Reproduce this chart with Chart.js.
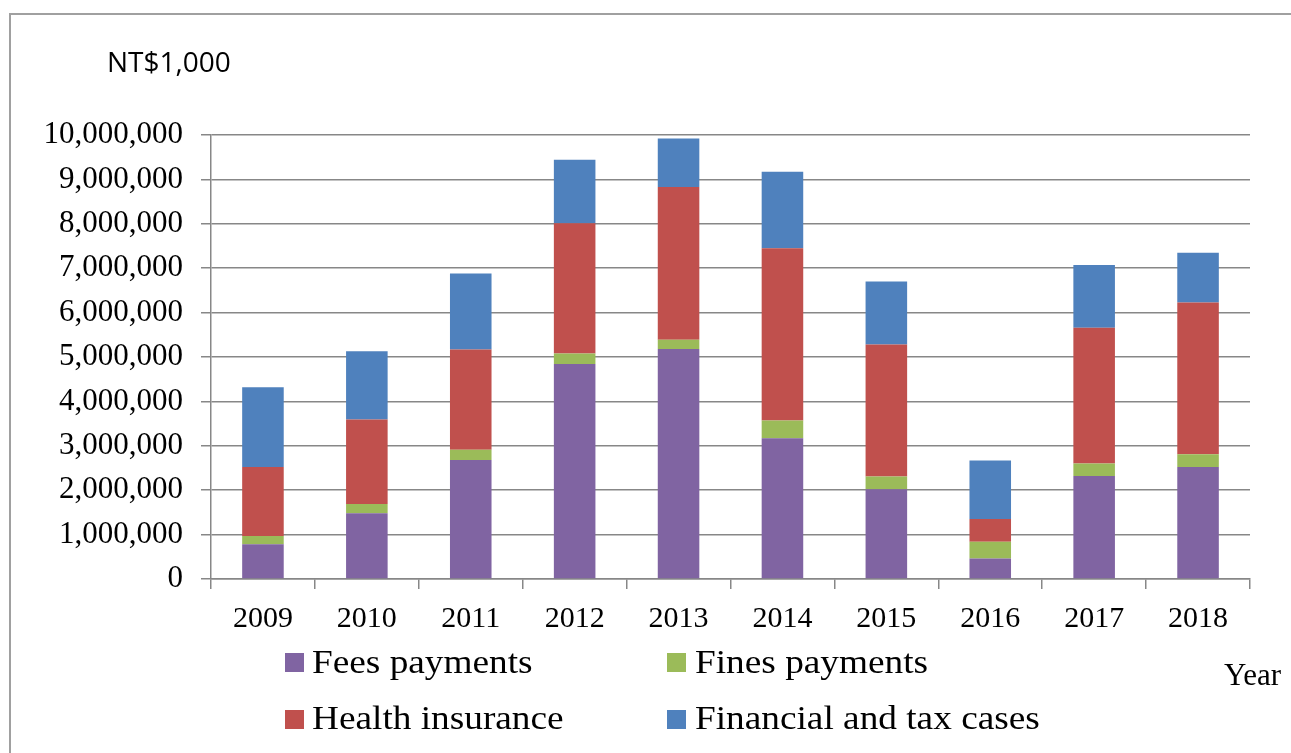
<!DOCTYPE html>
<html>
<head>
<meta charset="utf-8">
<script src="https://cdn.jsdelivr.net/npm/chart.js@4.4.0/dist/chart.umd.min.js"></script>
<style>
  html, body { margin: 0; padding: 0; background: #fff; }
  body { width: 1291px; height: 753px; position: relative; overflow: hidden;
         font-family: "Liberation Serif", "Times New Roman", serif; color: #000; }
  #frame { position: absolute; left: 9px; top: 13px; width: 1300px; height: 780px;
           border: 2px solid #a0a0a0; box-sizing: border-box; }
  #myChart { position: absolute; left: 0; top: 0; }
  #unit { position: absolute; left: 107px; top: 47px; font-family: "Open Sans", sans-serif;
          font-size: 28px; line-height: 28px; }
  #yearLbl { position: absolute; left: 1224px; top: 659px; font-size: 31px; line-height: 31px; }
  .legend-item { position: absolute; font-size: 33px; line-height: 33px; white-space: nowrap; }
  .legend-item .tx { display: inline-block; transform: scaleX(1.13); transform-origin: left center; }
  .swatch { position: absolute; width: 19px; height: 19px; }
</style>
</head>
<body>
<div id="frame"></div>
<canvas id="myChart" width="1291" height="753"></canvas>
<div id="unit">NT$1,000</div>
<div id="yearLbl">Year</div>
<div id="legend"></div>

<script>
// values in NT$1,000
var years = ['2009', '2010', '2011', '2012', '2013', '2014', '2015', '2016', '2017', '2018'];
var feesPayments = [780000, 1480000, 2680000, 4840000, 5180000, 3170000, 2020000, 460000, 2320000, 2520000];
var finesPayments = [190000, 210000, 230000, 240000, 210000, 400000, 290000, 380000, 280000, 290000];
var healthInsurance = [1550000, 1900000, 2260000, 2930000, 3440000, 3880000, 2970000, 510000, 3060000, 3420000];
var financialTax = [1800000, 1540000, 1710000, 1430000, 1090000, 1720000, 1420000, 1320000, 1410000, 1120000];
var yTicks = [0, 1000000, 2000000, 3000000, 4000000, 5000000, 6000000, 7000000, 8000000, 9000000, 10000000];

var seriesNames = ['Fees payments', 'Fines payments', 'Health insurance', 'Financial and tax cases'];
var seriesColors = ['#8064A2', '#9BBB59', '#C0504D', '#4F81BD'];
var seriesData = [feesPayments, finesPayments, healthInsurance, financialTax];

var gridColor = '#878787';
var serif = '"Liberation Serif", "Times New Roman", serif';

var datasets = seriesNames.map(function (name, i) {
    return {
        label: name,
        data: seriesData[i],
        backgroundColor: seriesColors[i],
        borderWidth: 0,
        barPercentage: 0.4,
        categoryPercentage: 1.0
    };
});

const ctx = document.getElementById('myChart');

new Chart(ctx, {
    type: 'bar',
    data: {
        labels: years,
        datasets: datasets
    },
    options: {
        responsive: false,
        animation: false,
        layout: { padding: { left: 0, top: 135, right: 41, bottom: 114 } },
        plugins: {
            legend: { display: false },
            tooltip: { enabled: false }
        },
        scales: {
            x: {
                stacked: true,
                grid: { display: true, drawOnChartArea: false, offset: true, tickLength: 10, color: gridColor, lineWidth: 1.5 },
                border: { color: gridColor, width: 1.5 },
                ticks: { color: '#000', font: { family: serif, size: 30 }, padding: 12, maxRotation: 0 },
                afterFit: function (s) { s.height = 60; }
            },
            y: {
                stacked: true,
                min: 0,
                max: 10000000,
                grid: { color: gridColor, lineWidth: 1.5, tickLength: 10 },
                border: { color: gridColor, width: 1.5 },
                ticks: {
                    color: '#000',
                    font: { family: serif, size: 31 },
                    padding: 18,
                    callback: function (v) { return v.toLocaleString('en-US'); }
                },
                afterBuildTicks: function (s) { s.ticks = yTicks.map(function (v) { return { value: v }; }); },
                afterFit: function (s) { s.width = 211; }
            }
        }
    }
});

// legend laid out in two columns like the original
var legendPos = [
    { box: [285, 653], text: [312, 646] },
    { box: [667, 653], text: [695, 646] },
    { box: [285, 710], text: [312, 702] },
    { box: [667, 710], text: [695, 702] }
];
var legendEl = document.getElementById('legend');
seriesNames.forEach(function (name, i) {
    var sw = document.createElement('div');
    sw.className = 'swatch';
    sw.style.left = legendPos[i].box[0] + 'px';
    sw.style.top = legendPos[i].box[1] + 'px';
    sw.style.background = seriesColors[i];
    legendEl.appendChild(sw);

    var item = document.createElement('div');
    item.className = 'legend-item';
    item.style.left = legendPos[i].text[0] + 'px';
    item.style.top = legendPos[i].text[1] + 'px';
    item.innerHTML = '<span class="tx">' + name + '</span>';
    legendEl.appendChild(item);
});
</script>
</body>
</html>
